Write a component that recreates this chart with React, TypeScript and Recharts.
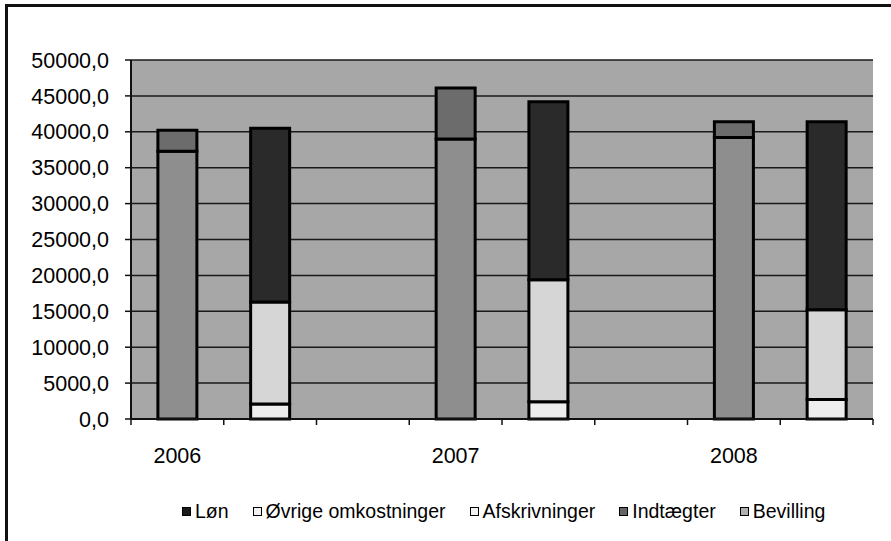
import React from 'react';
import { BarChart, Bar, XAxis, YAxis, CartesianGrid, Legend } from 'recharts';

const categories = ['2006', '', '', '2007', '', '', '2008', ''];
const bevilling = [37300, null, null, 39000, null, null, 39200, null];
const indtaegter = [2900, null, null, 7100, null, null, 2200, null];
const afskrivninger = [null, 2100, null, null, 2400, null, null, 2700];
const ovrige = [null, 14200, null, null, 17000, null, null, 12500];
const lon = [null, 24200, null, null, 24800, null, null, 26200];
const yTicks = [0, 5000, 10000, 15000, 20000, 25000, 30000, 35000, 40000, 45000, 50000];

const seriesNames = {
  lon: 'Løn',
  ovrige: 'Øvrige omkostninger',
  afskrivninger: 'Afskrivninger',
  indtaegter: 'Indtægter',
  bevilling: 'Bevilling',
};

const colors = {
  lon: '#2a2a2a',
  ovrige: '#d6d6d6',
  afskrivninger: '#eeeeee',
  indtaegter: '#6c6c6c',
  bevilling: '#8e8e8e',
  plot: '#a7a7a7',
};

const legendColors = {
  lon: '#1a1a1a',
  ovrige: '#f2f2f2',
  afskrivninger: '#f2f2f2',
  indtaegter: '#666666',
  bevilling: '#b0b0b0',
};

const data = categories.map((c, i) => ({
  cat: c,
  bevilling: bevilling[i],
  indtaegter: indtaegter[i],
  afskrivninger: afskrivninger[i],
  ovrige: ovrige[i],
  lon: lon[i],
}));

const FONT = '"Liberation Sans", Arial, sans-serif';

const XTick = (props: any) => {
  const { x, y, payload, index, visibleTicksCount } = props;
  const off = payload && payload.offset ? payload.offset : 46.4;
  const isLast = index === (visibleTicksCount ?? categories.length) - 1;
  return (
    <g>
      <line x1={x - off} x2={x - off} y1={y} y2={y + 6} stroke="#111" strokeWidth={1.5} />
      {isLast && <line x1={x + off} x2={x + off} y1={y} y2={y + 6} stroke="#111" strokeWidth={1.5} />}
      {payload.value ? (
        <text x={x} y={y + 44} textAnchor="middle" fontFamily={FONT} fontSize={21.5} fill="#000">
          {payload.value}
        </text>
      ) : null}
    </g>
  );
};

const legendOrder = ['lon', 'ovrige', 'afskrivninger', 'indtaegter', 'bevilling'];

const LegendContent = () => (
  <div style={{ display: 'flex', alignItems: 'center', fontFamily: FONT, fontSize: 19.5, color: '#000', whiteSpace: 'nowrap' }}>
    {legendOrder.map((k) => (
      <div key={k} style={{ display: 'flex', alignItems: 'center', marginRight: 24 }}>
        <span
          style={{
            display: 'inline-block',
            width: 7,
            height: 7,
            border: '1.5px solid #000',
            background: (legendColors as any)[k],
            marginRight: 4,
          }}
        />
        <span>{(seriesNames as any)[k]}</span>
      </div>
    ))}
  </div>
);

export default function App() {
  return (
    <div style={{ position: 'absolute', left: 0, top: 0, width: 891, height: 541, background: '#fff', overflow: 'hidden' }}>
      <div
        style={{
          position: 'absolute',
          left: 5,
          top: 4,
          width: 950,
          height: 600,
          borderTop: '3px solid #111',
          borderLeft: '3px solid #111',
        }}
      />
      <div style={{ position: 'absolute', left: 0, top: 0 }}>
        <BarChart
          width={891}
          height={541}
          data={data}
          margin={{ top: 60, right: 18, left: 0, bottom: 58 }}
          barCategoryGap="29%"
        >
          <CartesianGrid vertical={false} fill={colors.plot} stroke="#1a1a1a" strokeWidth={1.5} />
          <XAxis
            dataKey="cat"
            height={40}
            interval={0}
            tickSize={0}
            tickMargin={0}
            tickLine={false}
            axisLine={{ stroke: '#111', strokeWidth: 2 }}
            tick={<XTick />}
          />
          <YAxis
            width={131}
            domain={[0, 50000]}
            ticks={yTicks}
            interval={0}
            tickSize={6}
            tickMargin={16}
            tickFormatter={(v: number) => v.toFixed(1).replace('.', ',')}
            tick={{ fontFamily: FONT, fontSize: 21.5, fill: '#000' }}
            tickLine={{ stroke: '#111', strokeWidth: 1.5 }}
            axisLine={{ stroke: '#111', strokeWidth: 2 }}
          />
          <YAxis
            yAxisId="r"
            orientation="right"
            width={0}
            domain={[0, 50000]}
            tick={false}
            tickLine={false}
            axisLine={{ stroke: '#222', strokeWidth: 1.5 }}
          />
          <Bar dataKey="bevilling" name={seriesNames.bevilling} stackId="a" fill={colors.bevilling} stroke="#000" strokeWidth={3} isAnimationActive={false} />
          <Bar dataKey="indtaegter" name={seriesNames.indtaegter} stackId="a" fill={colors.indtaegter} stroke="#000" strokeWidth={3} isAnimationActive={false} />
          <Bar dataKey="afskrivninger" name={seriesNames.afskrivninger} stackId="a" fill={colors.afskrivninger} stroke="#000" strokeWidth={3} isAnimationActive={false} />
          <Bar dataKey="ovrige" name={seriesNames.ovrige} stackId="a" fill={colors.ovrige} stroke="#000" strokeWidth={3} isAnimationActive={false} />
          <Bar dataKey="lon" name={seriesNames.lon} stackId="a" fill={colors.lon} stroke="#000" strokeWidth={3} isAnimationActive={false} />
          <Legend
            verticalAlign="bottom"
            content={<LegendContent />}
            wrapperStyle={{ top: 500, left: 182, width: 700, height: 24 }}
          />
        </BarChart>
      </div>
    </div>
  );
}
